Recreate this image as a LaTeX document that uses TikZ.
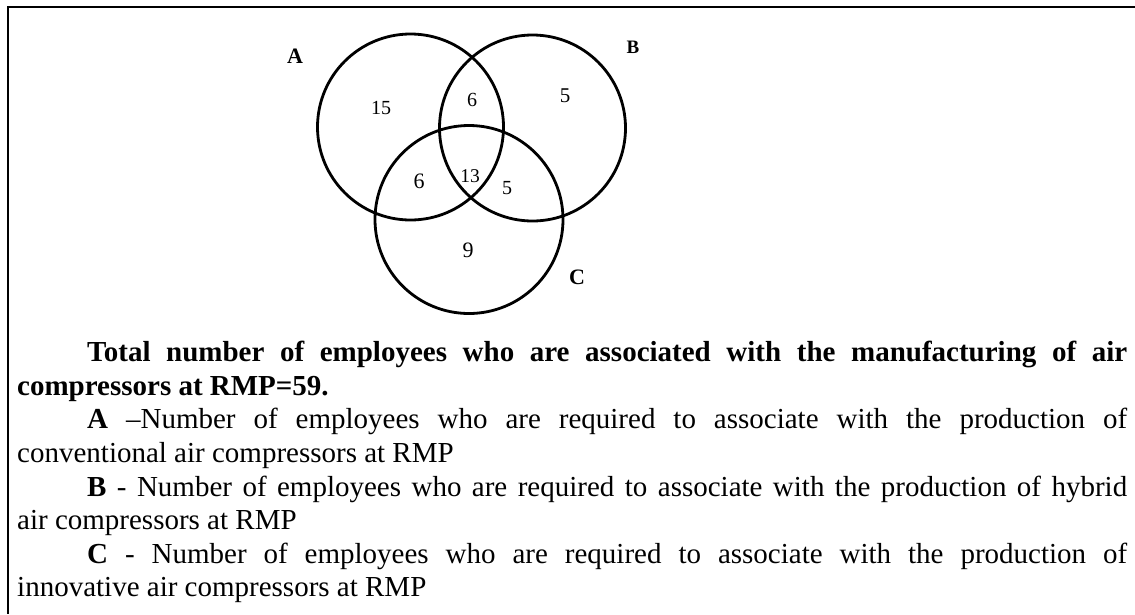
\documentclass[tikz,border=0pt]{standalone}
\usepackage{fontspec}
\setmainfont{Liberation Serif}
\begin{document}
\begin{tikzpicture}[x=1pt,y=-1pt,
  setc/.style={circle, draw, line width=2.8pt, inner sep=0pt, minimum size=#1},
  num/.style={inner sep=0pt, font=\fontsize{#1}{#1}\selectfont},
  lab/.style={inner sep=0pt, font=\fontsize{#1}{#1}\selectfont\bfseries},
  frame/.style={line width=2pt}]
\useasboundingbox (0,0) rectangle (1135,614);
% frame (top and left edges only)
\coordinate (fTR) at (1135,7);
\coordinate (fTL) at (8,7);
\coordinate (fBL) at (8,614);
\draw[frame] (fTR) -- (fTL) -- (fBL);
% circles
\node[setc=186pt] (cA) at (410.5,127) {};
\node[setc=186pt] (cB) at (532.5,128) {};
\node[setc=188pt] (cC) at (469,219.5) {};
% set labels
\node[lab=22] (lA) at (295,56) {A};
\node[lab=19] (lB) at (633,47) {B};
\node[lab=22] (lC) at (577,277) {C};
% region counts
\node[num=20] (n1) at (381,108) {15};
\node[num=20] (n2) at (472,100) {6};
\node[num=21] (n3) at (565,96) {5};
\node[num=22] (n4) at (419,181) {6};
\node[num=19.5] (n5) at (470,176) {13};
\node[num=20] (n6) at (507,188) {5};
\node[num=22] (n7) at (468,250) {9};
% caption text
\node[anchor=base west, inner sep=0pt] (txt) at (17,361.7) {\begin{minipage}[t]{1110pt}%
\fontsize{29}{33.6}\selectfont\setlength{\parskip}{0pt}\tolerance=10000\hyphenpenalty=10000\noindent\hspace*{70pt}%
\textbf{Total number of employees who are associated with the manufacturing of air\linebreak compressors at RMP=59.}\par
\noindent\hspace*{70pt}\textbf{A} –Number of employees who are required to associate with the production of\linebreak conventional air compressors at RMP\par
\noindent\hspace*{70pt}\textbf{B} - Number of employees who are required to associate with the production of hybrid\linebreak air compressors at RMP\par
\noindent\hspace*{70pt}\textbf{C} - Number of employees who are required to associate with the production of\linebreak innovative air compressors at RMP
\end{minipage}};
\end{tikzpicture}
\end{document}
